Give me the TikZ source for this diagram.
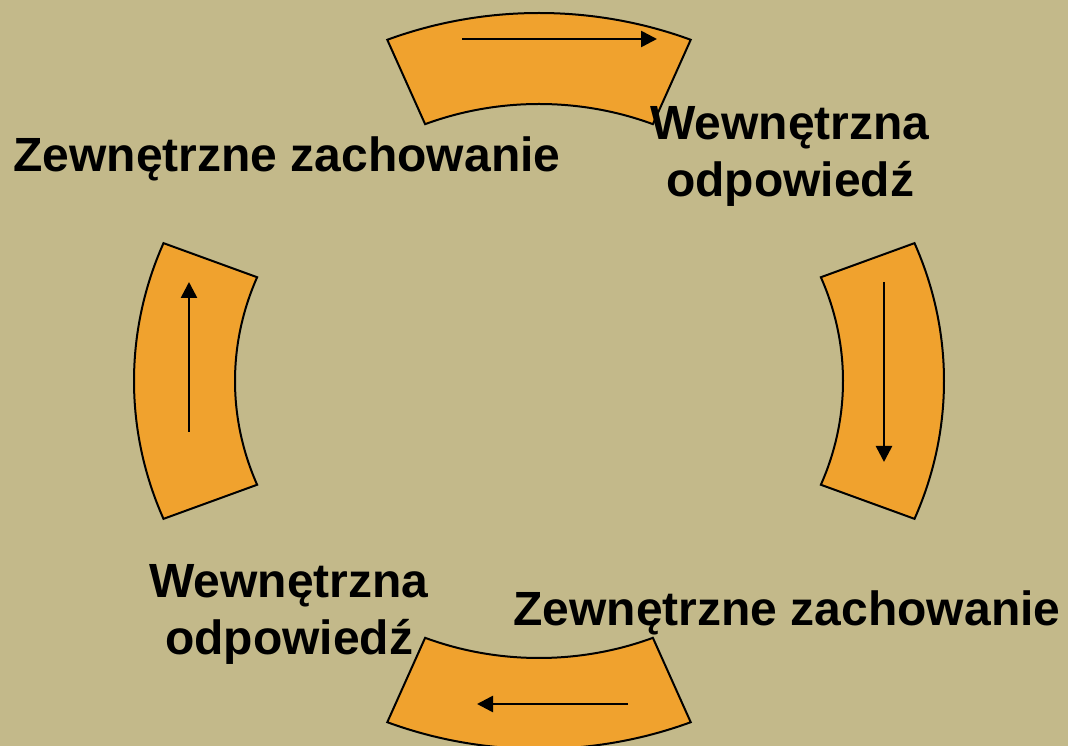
\documentclass[tikz,border=0pt]{standalone}
\usepackage{fontspec}
\setmainfont{Liberation Sans}
\usetikzlibrary{arrows.meta}
\definecolor{khaki}{RGB}{195,185,138}
\definecolor{segorange}{RGB}{240,162,46}
\tikzset{
	segment/.style={fill=segorange, draw=black, line width=2bp},
	flow/.style={line width=2.6bp, -{Triangle[length=16bp,width=16bp]}},
	lbl/.style={font=\bfseries\fontsize{48bp}{57bp}\selectfont, align=center, inner sep=0pt}
}
\begin{document}
\begin{tikzpicture}[x=1bp, y=1bp]
	%background
	\useasboundingbox (0,0) rectangle (1068,746);
	\clip (0,0) rectangle (1068,746);
	\fill[khaki] (0,0) rectangle (1068,746);
	
	%segments
	\foreach \a [evaluate=\a as \s using \a-22, evaluate=\a as \e using \a+22] in {0,90,180,270}
		\draw[segment, shift={(539,365)}] (\s:405 and 368) arc[start angle=\s, end angle=\e, x radius=405, y radius=368]
			-- (\e:304 and 277) arc[start angle=\e, end angle=\s, x radius=304, y radius=277] -- cycle;
	
	%arrows
	\coordinate (top1) at (462,707); \coordinate (top2) at (657,707);
	\coordinate (rgt1) at (884,464); \coordinate (rgt2) at (884,284);
	\coordinate (bot1) at (628,42); \coordinate (bot2) at (477,42);
	\coordinate (lft1) at (189,314); \coordinate (lft2) at (189,464);
	\draw[flow] (top1)--(top2);
	\draw[flow] (rgt1)--(rgt2);
	\draw[flow] (bot1)--(bot2);
	\draw[flow] (lft1)--(lft2);
	
	%labels
	\node[lbl, anchor=base] (zew1) at (287,574) {Zewnętrzne zachowanie};
	\node[lbl, anchor=base] (wew1) at (790,549) {Wewnętrzna\\odpowiedź};
	\node[lbl, anchor=base] (zew2) at (787,120) {Zewnętrzne zachowanie};
	\node[lbl, anchor=base] (wew2) at (289,91) {Wewnętrzna\\odpowiedź};
\end{tikzpicture}
\end{document}
